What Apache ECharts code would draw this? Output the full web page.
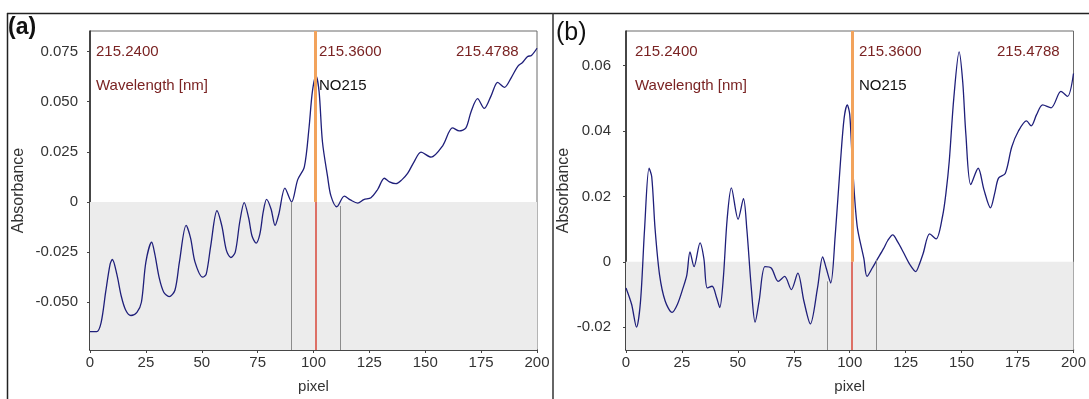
<!DOCTYPE html>
<html>
<head>
<meta charset="utf-8">
<script src="https://cdn.jsdelivr.net/npm/echarts@6/dist/echarts.min.js"></script>
<style>
  html, body { margin: 0; padding: 0; background: #fff; }
  #chart { width: 1089px; height: 399px; }
</style>
</head>
<body>
<div id="chart"></div>
<script>
// panel (a) spectrum
const leftPixel = [0, 3, 5, 7, 9, 10, 12, 14, 16, 18.3, 21, 23, 25, 27.6, 29, 31, 33, 35.4, 38, 40, 43, 45, 47, 50.4, 52, 54, 56.8, 59, 61, 63, 65, 67, 69, 71, 72.5, 74.3, 76, 77.5, 79, 81, 82.8, 84.5, 87.2, 90.2, 92.9, 95.9, 98, 99.5, 101.1, 102.5, 104, 106.3, 107.8, 110.4, 113.8, 116.5, 119.8, 122.5, 125.7, 128.7, 131.7, 134, 136.9, 139.5, 142.1, 145, 148.1, 152.6, 157.8, 162.2, 165.2, 168.2, 170.5, 173.4, 176.4, 179.5, 182.4, 185.4, 188.5, 191.4, 193.5, 195.8, 197.5, 200]
const leftAbs = [-0.0646, -0.0646, -0.060, -0.045, -0.031, -0.0287, -0.036, -0.047, -0.054, -0.0566, -0.055, -0.050, -0.030, -0.0201, -0.026, -0.038, -0.045, -0.0472, -0.044, -0.030, -0.0117, -0.018, -0.030, -0.0375, -0.036, -0.022, -0.0044, -0.012, -0.024, -0.0277, -0.025, -0.010, -0.0003, -0.008, -0.017, -0.0205, -0.016, -0.005, 0.0013, -0.0035, -0.0117, -0.006, 0.0069, 0.0, 0.011, 0.0175, 0.037, 0.055, 0.0628, 0.055, 0.030, 0.0126, 0.003, -0.0024, 0.0029, 0.001, -0.0006, 0.0012, 0.0021, 0.0062, 0.0118, 0.010, 0.0091, 0.011, 0.0142, 0.020, 0.0248, 0.0223, 0.028, 0.0369, 0.0354, 0.0369, 0.045, 0.0515, 0.0466, 0.053, 0.0596, 0.0571, 0.062, 0.0676, 0.0695, 0.0725, 0.073, 0.0766]

// panel (b) spectrum
const rightPixel = [0, 2.5, 4.7, 6.5, 8.3, 10.3, 11.5, 13, 15, 17.5, 20.6, 23, 25.5, 27.2, 28.6, 30.4, 33.1, 34.8, 36.3, 38.5, 40.5, 41.9, 43.5, 45.2, 47.1, 50.1, 52.5, 54, 56, 57.7, 59.5, 62.1, 65, 68, 70.9, 73.9, 76.8, 79.5, 82.4, 85.6, 87.9, 89.5, 91.5, 93.5, 95.9, 97.5, 98.9, 100, 101.2, 103.3, 106.3, 107.7, 110, 112.1, 115.1, 117, 119.2, 121.5, 123.9, 127, 129.5, 131, 132.8, 135.7, 138.6, 141.5, 143, 144.5, 146.5, 148.9, 150.5, 151.9, 154.1, 157.4, 160, 162.9, 164.8, 166.5, 169.5, 172.4, 175.4, 179, 181.1, 183.5, 186.2, 190, 194.4, 197.3, 200]
const rightAbs = [-0.008, -0.013, -0.020, -0.012, 0.010, 0.0286, 0.026, 0.010, -0.004, -0.012, -0.0155, -0.013, -0.008, -0.004, 0.003, -0.0015, 0.0058, 0.001, -0.008, -0.0075, -0.011, -0.014, -0.005, 0.013, 0.0226, 0.013, 0.0193, 0.010, -0.008, -0.0185, -0.012, -0.0015, -0.002, -0.006, -0.0045, -0.0085, -0.0035, -0.012, -0.019, -0.008, 0.0015, -0.002, -0.0065, 0.008, 0.031, 0.044, 0.048, 0.045, 0.030, 0.011, 0.001, -0.0045, -0.002, 0.0005, 0.004, 0.0065, 0.0082, 0.006, 0.003, -0.001, -0.003, -0.001, 0.0025, 0.0085, 0.007, 0.014, 0.021, 0.031, 0.050, 0.0642, 0.055, 0.039, 0.0236, 0.0286, 0.022, 0.0165, 0.021, 0.0256, 0.027, 0.0351, 0.040, 0.0431, 0.0416, 0.045, 0.048, 0.0471, 0.0521, 0.0506, 0.0576]

const xTicks = [0, 25, 50, 75, 100, 125, 150, 175, 200]
const leftYTicks = [-0.05, -0.025, 0, 0.025, 0.05, 0.075]
const rightYTicks = [-0.02, 0, 0.02, 0.04, 0.06]

// window markers: gray edges and the NO line
const edgePixels = [90, 112]
const leftEdgeTops = [0.0, -0.002]
const rightEdgeTops = [-0.006, 0.0005]
const centerPixel = 101
const wavelengths = ['215.2400', '215.3600', '215.4788']

const FONT = 'Liberation Sans, Arial, sans-serif'
const chart = echarts.init(document.getElementById('chart'))

function makeAxes(i, left, width, yMin, yMax, yTicks, digits, nameGap, labelMargin) {
  const grid = {
    left: left, top: 31, width: width, height: 326,
    show: true, backgroundColor: '#fff', borderColor: '#6a6a6a', borderWidth: 1,
  }
  const xAxis = {
    gridIndex: i, type: 'value', min: 0, max: 200, interval: 25,
    name: 'pixel', nameLocation: 'middle', nameGap: 29,
    nameTextStyle: { color: '#333', fontSize: 15, fontFamily: FONT },
    axisLine: { onZero: false, lineStyle: { color: '#222', width: 1.5 } },
    axisTick: { length: 3, lineStyle: { color: '#444' } },
    axisLabel: { color: '#333', fontSize: 15, fontFamily: FONT, margin: 5, customValues: xTicks },
    splitLine: { show: false },
  }
  const yAxis = {
    gridIndex: i, type: 'value', min: yMin, max: yMax,
    name: 'Absorbance', nameLocation: 'middle', nameGap: nameGap,
    nameTextStyle: { color: '#333', fontSize: 16, fontFamily: FONT },
    axisLine: { onZero: false, lineStyle: { color: '#222', width: 1.5 } },
    axisTick: { length: 3, lineStyle: { color: '#444' }, customValues: yTicks },
    axisLabel: {
      color: '#333', fontSize: 15, fontFamily: FONT, margin: labelMargin,
      customValues: yTicks,
      formatter: v => (v === 0 ? '0' : v.toFixed(digits)),
    },
    splitLine: { show: false },
  }
  return { grid, xAxis, yAxis }
}

function makeSeries(i, xs, ys, yMin, yMax, edgeTops) {
  const markers = [
    [{ coord: [edgePixels[0], yMin], lineStyle: { color: '#8c8c8c', width: 1, type: 'solid' } }, { coord: [edgePixels[0], edgeTops[0]] }],
    [{ coord: [edgePixels[1], yMin], lineStyle: { color: '#8c8c8c', width: 1, type: 'solid' } }, { coord: [edgePixels[1], edgeTops[1]] }],
    [{ coord: [centerPixel, 0], lineStyle: { color: '#f2a35c', width: 3, type: 'solid' } }, { coord: [centerPixel, yMax] }],
    [{ coord: [centerPixel, yMin], lineStyle: { color: '#d8473a', width: 1.5, type: 'solid' } }, { coord: [centerPixel, 0] }],
  ]
  return {
    type: 'line',
    xAxisIndex: i,
    yAxisIndex: i,
    data: xs.map((x, k) => [x, ys[k]]),
    showSymbol: false,
    smooth: 0.3,
    lineStyle: { color: '#1f1f7a', width: 1.3 },
    markArea: {
      silent: true,
      itemStyle: { color: '#ececec', opacity: 1 },
      data: [[{ yAxis: yMin }, { yAxis: 0 }]],
    },
    markLine: {
      silent: true,
      symbol: ['none', 'none'],
      label: { show: false },
      animation: false,
      data: markers,
    },
    z: 3,
  }
}

const a = makeAxes(0, 90, 447, -0.0738, 0.0852, leftYTicks, 3, 63, 12)
const b = makeAxes(1, 626, 453, -0.027, 0.0706, rightYTicks, 2, 54, 15)

function annotations(x0, xMid, xRight) {
  const red = '#7a2323'
  const st = (text, color) => ({ text, fill: color, font: '15px ' + FONT, verticalAlign: 'middle' })
  return [
    { type: 'text', left: x0, top: 44, style: st(wavelengths[0], red) },
    { type: 'text', left: x0, top: 78, style: st('Wavelength [nm]', red) },
    { type: 'text', left: xMid, top: 44, style: st(wavelengths[1], red) },
    { type: 'text', left: xMid, top: 78, style: st('NO215', '#111') },
    { type: 'text', left: xRight, top: 44, style: st(wavelengths[2], red) },
  ]
}

const option = {
  animation: false,
  backgroundColor: '#fff',
  grid: [a.grid, b.grid],
  xAxis: [a.xAxis, b.xAxis],
  yAxis: [a.yAxis, b.yAxis],
  series: [
    makeSeries(0, leftPixel, leftAbs, -0.0738, 0.0852, leftEdgeTops),
    makeSeries(1, rightPixel, rightAbs, -0.027, 0.0706, rightEdgeTops),
  ],
  graphic: [
    // panel frames
    { type: 'line', shape: { x1: 7, y1: 13.5, x2: 1089, y2: 13.5 }, style: { stroke: '#222', lineWidth: 1.5 } },
    { type: 'line', shape: { x1: 7.5, y1: 13, x2: 7.5, y2: 399 }, style: { stroke: '#222', lineWidth: 1.5 } },
    { type: 'line', shape: { x1: 553, y1: 13, x2: 553, y2: 399 }, style: { stroke: '#333', lineWidth: 1.5 } },
    { type: 'text', left: 8, top: 16, style: { text: '(a)', fill: '#111', font: 'bold 23px ' + FONT } },
    { type: 'text', left: 556, top: 21, style: { text: '(b)', fill: '#111', font: '25px ' + FONT } },
    ...annotations(96, 319, 456),
    ...annotations(635, 859, 997),
  ],
}

chart.setOption(option)
</script>
</body>
</html>
